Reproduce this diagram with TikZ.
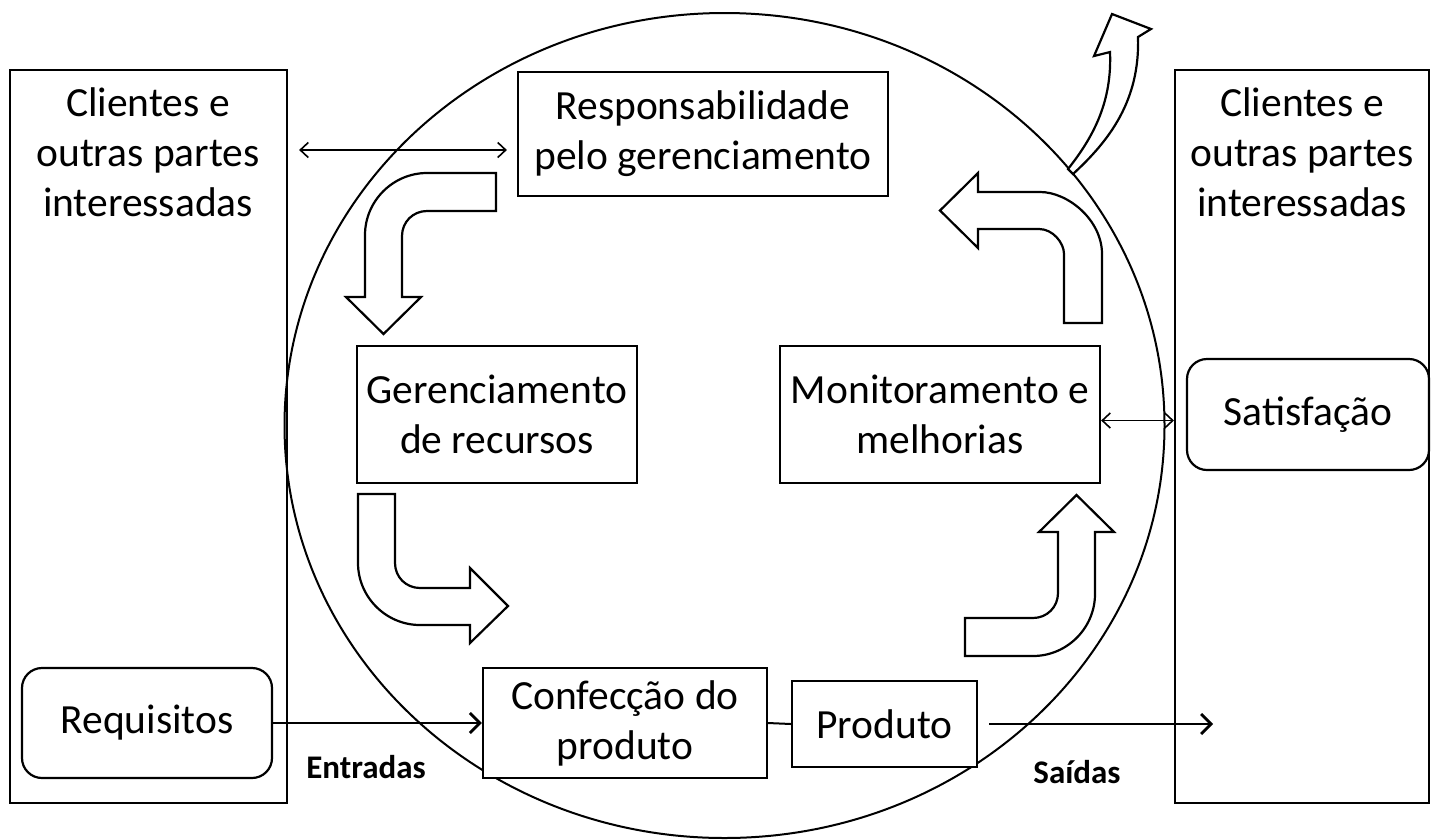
\documentclass[tikz,border=0pt]{standalone}
\usepackage{fontspec}
\setmainfont{Carlito}
\usetikzlibrary{arrows.meta,calc}
\begin{document}
\begin{tikzpicture}[x=1pt,y=-1pt,
  lbl/.style={font=\fontsize{41.5}{50}\selectfont,align=center,inner sep=0pt},
  box/.style={draw,line width=2.2pt,fill=white,inner sep=0pt,align=center,font=\fontsize{41.5}{50}\selectfont},
  rbox/.style={box,rounded corners=20pt},
  bigbox/.style={draw,line width=2.2pt,inner sep=0pt},
  bent/.style={draw,line width=2.2pt,fill=white,line join=miter},
  dbl/.style={line width=1.6pt,{Straight Barb[length=8pt,width=15pt]}-{Straight Barb[length=8pt,width=15pt]}},
  flow/.style={line width=2.8pt,-{Straight Barb[length=10pt,width=20pt]}},
  tag/.style={font=\fontsize{33}{38}\selectfont\bfseries,inner sep=0pt}]
\useasboundingbox (0,0) rectangle (1431,839);
% circle
\draw[line width=2pt] (724.5,425.5) ellipse [x radius=440pt, y radius=412.5pt];
% side boxes
\node[bigbox,minimum width=277pt,minimum height=733pt] (leftbox) at (148.5,436.5) {};
\node[bigbox,minimum width=254pt,minimum height=733pt] (rightbox) at (1302,436.5) {};
\node[lbl] (lefttext) at (148,152) {Clientes e\\outras partes\\interessadas};
\node[lbl] (righttext) at (1302,152) {Clientes e\\outras partes\\interessadas};
% inner boxes
\node[rbox,minimum width=250pt,minimum height=110pt] (req) at (147,723) {Requisitos};
\node[rbox,minimum width=242pt,minimum height=111pt] (sat) at (1308,414.5) {Satisfação};
\node[box,minimum width=370pt,minimum height=124pt] (resp) at (703,134) {Responsabilidade\\pelo gerenciamento};
\node[box,minimum width=280pt,minimum height=137pt] (ger) at (497,414.5) {Gerenciamento\\de recursos};
\node[box,minimum width=320pt,minimum height=137pt] (mon) at (940,414.5) {Monitoramento e\\melhorias};
\node[box,minimum width=284pt,minimum height=110pt] (conf) at (625,723) {Confecção do\\produto};
\node[box,minimum width=185pt,minimum height=86pt] (prod) at (884.5,724) {Produto};
% bent arrows
\draw[bent] (496,173) -- (427,173) .. controls (393,173) and (365,201) .. (365,235) -- (365,297) -- (346,297) -- (383.5,334) -- (421,297) -- (402,297) -- (402,236) .. controls (402,222) and (413,211) .. (427,211) -- (496,211) -- cycle;
\draw[bent] (358,494) -- (358,563) .. controls (358,597) and (386,625) .. (420,625) -- (470,625) -- (470,643) -- (508,606) -- (470,568) -- (470,588) -- (420,588) .. controls (406,588) and (395,577) .. (395,563) -- (395,494) -- cycle;
\draw[bent] (1102,323) -- (1102,254) .. controls (1102,220) and (1068,192) .. (1040,192) -- (978,192) -- (978,173) -- (940,210.5) -- (978,248) -- (978,229) -- (1039,229) .. controls (1053,229) and (1064,243) .. (1064,254) -- (1064,323) -- cycle;
\draw[bent] (965,656) -- (1033,656) .. controls (1067,656) and (1095,628) .. (1095,594) -- (1095,532) -- (1114,532) -- (1076.5,495) -- (1039,532) -- (1058,532) -- (1058,593) .. controls (1058,607) and (1047,618) .. (1033,618) -- (965,618) -- cycle;
\draw[bent] (1068,169) .. controls (1095,135) and (1112,100) .. (1110,52) -- (1094,56) -- (1112,14) -- (1151,29) -- (1138,37) .. controls (1140,100) and (1110,140) .. (1073,174) -- cycle;
% connectors
\draw[dbl] ($(leftbox.east |- resp.west)+(11,16)$) -- ($(resp.west)+(-10,16)$);
\draw[dbl] ($(mon.east)+(0,6)$) -- (rightbox.west |- {$(mon.east)+(0,6)$});
\draw[flow] (req.east) -- (conf.west);
\draw[line width=2pt] (conf.east) -- (prod.west);
\coordinate (outend) at (1213,724);
\draw[flow] ($(prod.east)+(11,0)$) -- (outend);
% labels
\node[tag] (entradas) at (366,767) {Entradas};
\node[tag] (saidas) at (1077,772) {Saídas};
\end{tikzpicture}
\end{document}
